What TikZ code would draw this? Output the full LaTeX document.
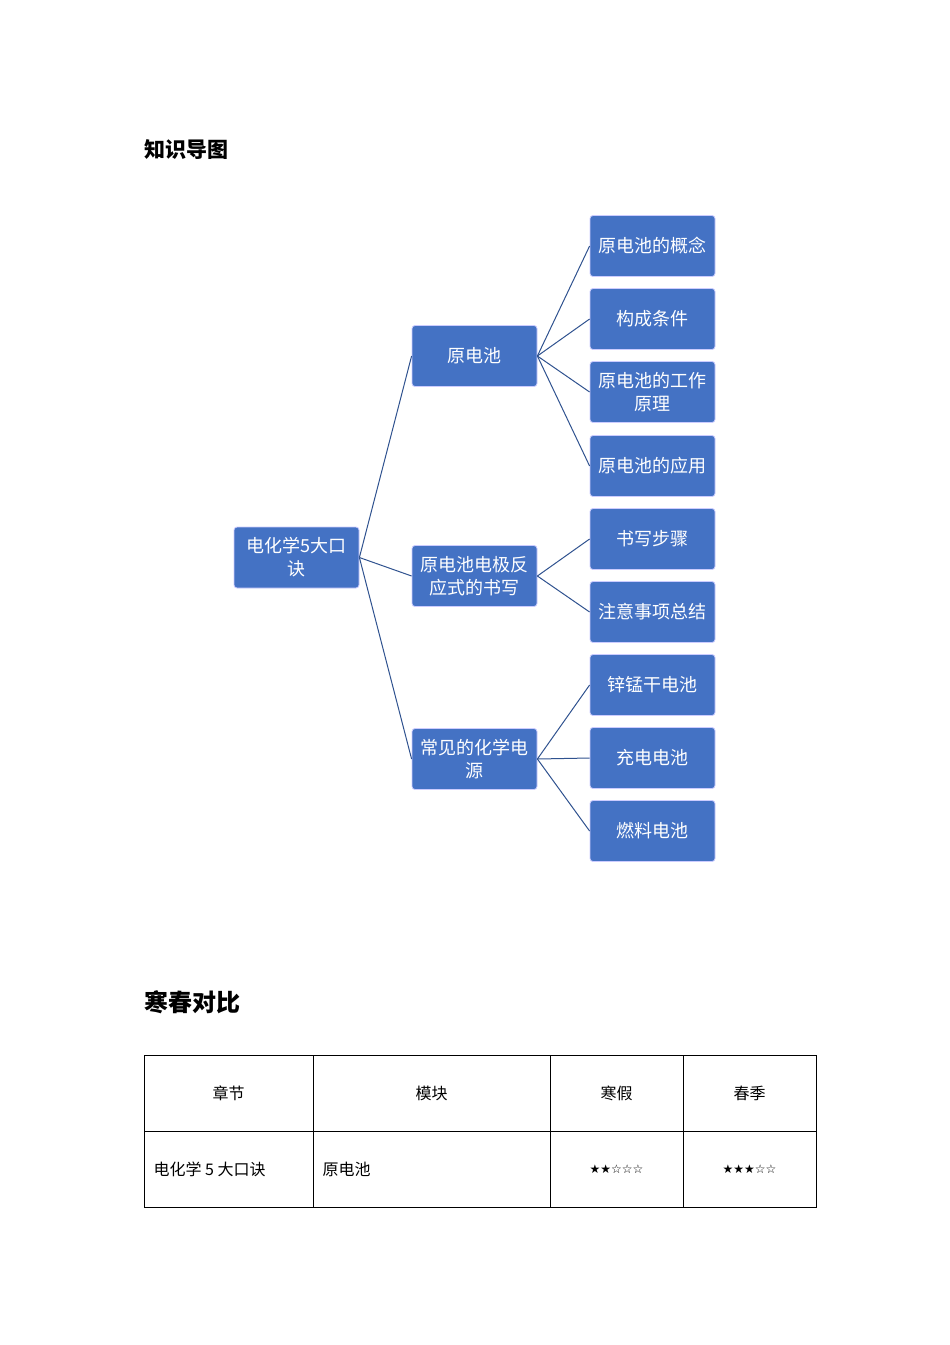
\documentclass[tikz,border=0pt]{standalone}
\usepackage{fontspec}
\newfontfamily\cjk{Noto Sans CJK SC}
\newfontfamily\sym{DejaVu Sans}
\begin{document}
\begin{tikzpicture}[x=1pt,y=-1pt,
  box/.style={draw=white!80!blue,line width=0.8pt,fill=boxblue,rounded corners=3pt,minimum width=125pt,minimum height=61pt,inner sep=2pt,text=white,font=\cjk\fontsize{18}{23}\selectfont,align=center},
  link/.style={draw=lineblue,line width=1pt},
  cell/.style={font=\cjk\fontsize{16}{20}\selectfont}]
\definecolor{boxblue}{HTML}{4472C4}
\definecolor{lineblue}{HTML}{2F528F}
\useasboundingbox (0,0) rectangle (950,1345);
\node[anchor=west,font=\cjk\bfseries\fontsize{21}{25}\selectfont] (t1) at (141,150) {知识导图};
\node[box] (r) at (296.5,557.5) {电化学5大口\\诀};
\node[box] (a) at (474.5,356) {原电池};
\node[box] (b) at (474.5,576) {原电池电极反\\应式的书写};
\node[box] (c) at (474.5,759) {常见的化学电\\源};
\node[box] (a1) at (652.5,246) {原电池的概念};
\node[box] (a2) at (652.5,319) {构成条件};
\node[box] (a3) at (652.5,392) {原电池的工作\\原理};
\node[box] (a4) at (652.5,466) {原电池的应用};
\node[box] (b1) at (652.5,539) {书写步骤};
\node[box] (b2) at (652.5,612) {注意事项总结};
\node[box] (c1) at (652.5,685) {锌锰干电池};
\node[box] (c2) at (652.5,758) {充电电池};
\node[box] (c3) at (652.5,831) {燃料电池};
\foreach \p/\q in {r/a,r/b,r/c,a/a1,a/a2,a/a3,a/a4,b/b1,b/b2,c/c1,c/c2,c/c3}
  \draw[link] (\p.east) -- (\q.west);
\node[anchor=west,font=\cjk\bfseries\fontsize{24}{28}\selectfont] (t2) at (141,1002) {寒春对比};
\draw[line width=0.8pt] (144,1055) rectangle (816,1207);
\draw[line width=0.8pt] (144,1131) -- (816,1131);
\foreach \x in {313,550,683} \draw[line width=0.8pt] (\x,1055) -- (\x,1207);
\node[cell] (h1) at (228.5,1093) {章节};
\node[cell] (h2) at (431.5,1093) {模块};
\node[cell] (h3) at (616.5,1093) {寒假};
\node[cell] (h4) at (749.5,1093) {春季};
\node[cell,anchor=west] (d1) at (150,1169) {电化学 5 大口诀};
\node[cell,anchor=west] (d2) at (319,1169) {原电池};
\node[font=\sym\fontsize{12}{14}\selectfont] (d3) at (616.5,1169) {★★☆☆☆};
\node[font=\sym\fontsize{12}{14}\selectfont] (d4) at (749.5,1169) {★★★☆☆};
\end{tikzpicture}
\end{document}
